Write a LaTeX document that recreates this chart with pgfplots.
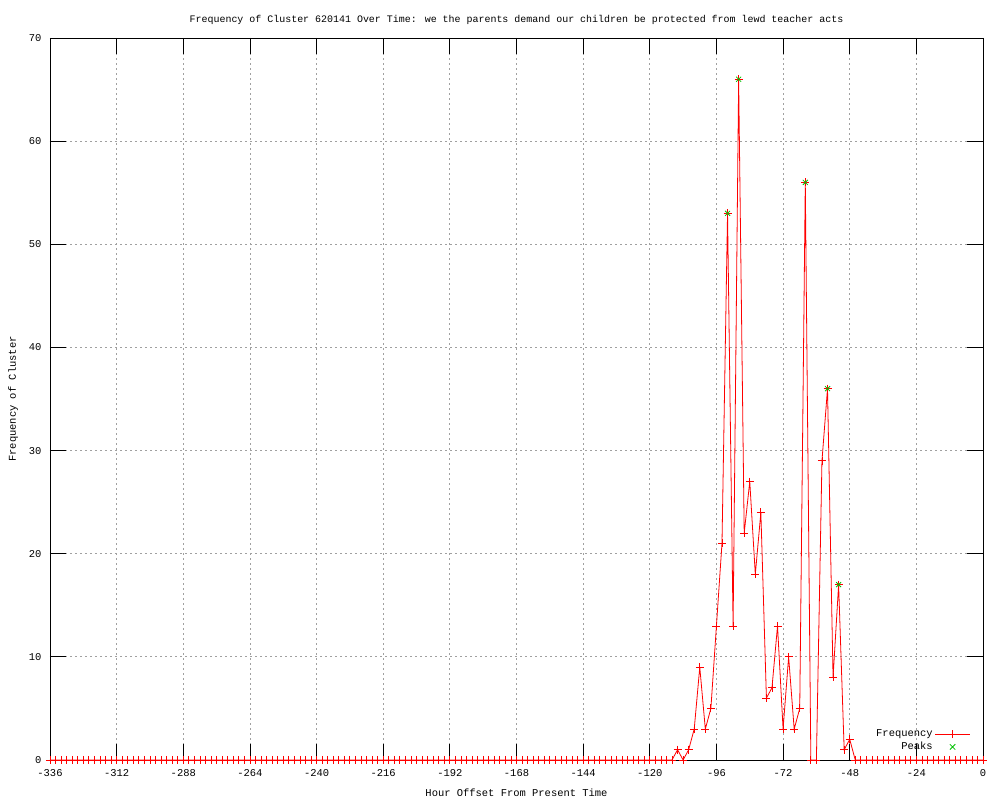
\documentclass[border=0pt]{standalone}
\usepackage{pgfplots}
\pgfplotsset{compat=1.18}
\usepackage{fontspec}
\setmainfont{Liberation Mono}
\definecolor{gpred}{RGB}{255,0,0}
\definecolor{gpgreen}{RGB}{0,192,0}
\definecolor{gpgrid}{RGB}{160,160,160}
\begin{document}
\begin{tikzpicture}
\useasboundingbox (-50bp,-40bp) rectangle (950bp,760bp);
\begin{axis}[
  scale only axis,
  width=933bp, height=722bp,
  xmin=-336, xmax=0, ymin=0, ymax=70,
  xtick={-336,-312,-288,-264,-240,-216,-192,-168,-144,-120,-96,-72,-48,-24,0},
  xticklabels={-336,-312,-288,-264,-240,-216,-192,-168,-144,-120,-96,-72,-48,-24,0},
  ytick={0,10,20,30,40,50,60,70},
  yticklabels={0,10,20,30,40,50,60,70},
  tick align=inside,
  major tick length=16bp,
  tick style={black, line width=0.8bp},
  axis line style={black, line width=0.8bp},
  grid=major,
  major grid style={gpgrid, dash pattern=on 2bp off 3bp, line width=0.8bp},
  ticklabel style={font=\fontsize{10.5}{12}\selectfont},
  xticklabel style={yshift=-6bp},
  yticklabel style={xshift=-5bp},
  title={Frequency of Cluster 620141 Over Time: we the parents demand our children be protected from lewd teacher acts},
  title style={font=\fontsize{10}{12}\selectfont, yshift=4bp},
  xlabel={Hour Offset From Present Time},
  ylabel={Frequency of Cluster},
  label style={font=\fontsize{10.5}{12}\selectfont},
  xlabel style={yshift=-5bp},
  ylabel style={yshift=4bp},
  legend style={draw=none, fill=none, at={(0.99,0.006)}, anchor=south east,
    font=\fontsize{10.5}{12}\selectfont, row sep=0bp},
  legend cell align=right,
  legend plot pos=right,
  clip=false,
]
\addplot[gpred, line width=0.8bp, mark=+, mark size=4bp, mark options={line width=0.8bp},
  legend image code/.code={
    \draw[gpred, line width=0.8bp] (0bp,0bp) -- (35bp,0bp);
    \draw[gpred, line width=0.8bp] (17.5bp,-4bp) -- (17.5bp,4bp);
  }] coordinates {
(-336,0)(-334,0)(-332,0)(-330,0)(-328,0)(-326,0)(-324,0)(-322,0)(-320,0)(-318,0)
(-316,0)(-314,0)(-312,0)(-310,0)(-308,0)(-306,0)(-304,0)(-302,0)(-300,0)(-298,0)
(-296,0)(-294,0)(-292,0)(-290,0)(-288,0)(-286,0)(-284,0)(-282,0)(-280,0)(-278,0)
(-276,0)(-274,0)(-272,0)(-270,0)(-268,0)(-266,0)(-264,0)(-262,0)(-260,0)(-258,0)
(-256,0)(-254,0)(-252,0)(-250,0)(-248,0)(-246,0)(-244,0)(-242,0)(-240,0)(-238,0)
(-236,0)(-234,0)(-232,0)(-230,0)(-228,0)(-226,0)(-224,0)(-222,0)(-220,0)(-218,0)
(-216,0)(-214,0)(-212,0)(-210,0)(-208,0)(-206,0)(-204,0)(-202,0)(-200,0)(-198,0)
(-196,0)(-194,0)(-192,0)(-190,0)(-188,0)(-186,0)(-184,0)(-182,0)(-180,0)(-178,0)
(-176,0)(-174,0)(-172,0)(-170,0)(-168,0)(-166,0)(-164,0)(-162,0)(-160,0)(-158,0)
(-156,0)(-154,0)(-152,0)(-150,0)(-148,0)(-146,0)(-144,0)(-142,0)(-140,0)(-138,0)
(-136,0)(-134,0)(-132,0)(-130,0)(-128,0)(-126,0)(-124,0)(-122,0)(-120,0)(-118,0)
(-116,0)(-114,0)(-112,0)
(-110,1)(-108,0)(-106,1)(-104,3)(-102,9)(-100,3)(-98,5)(-96,13)(-94,21)(-92,53)
(-90,13)(-88,66)(-86,22)(-84,27)(-82,18)(-80,24)(-78,6)(-76,7)(-74,13)(-72,3)
(-70,10)(-68,3)(-66,5)(-64,56)(-62,0)(-60,0)(-58,29)(-56,36)(-54,8)(-52,17)
(-50,1)(-48,2)
(-46,0)(-44,0)(-42,0)(-40,0)(-38,0)(-36,0)(-34,0)(-32,0)(-30,0)(-28,0)
(-26,0)(-24,0)(-22,0)(-20,0)(-18,0)(-16,0)(-14,0)(-12,0)(-10,0)(-8,0)
(-6,0)(-4,0)(-2,0)(0,0)
};
\addlegendentry{Frequency}
\addplot[only marks, gpgreen, mark=x, mark size=3.5bp, mark options={line width=0.8bp},
  legend image code/.code={
    \draw[gpgreen, line width=0.8bp] plot[mark=x, mark size=3.8bp] coordinates {(17.5bp,0bp)};
  }] coordinates {
(-92,53)(-88,66)(-64,56)(-56,36)(-52,17)
};
\addlegendentry{Peaks}
\end{axis}
\end{tikzpicture}
\end{document}
